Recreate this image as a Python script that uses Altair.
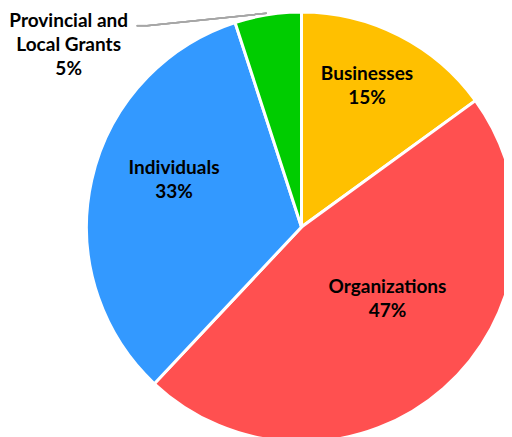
import altair as alt
import pandas as pd

categories = ["Businesses", "Organizations", "Individuals", "Provincial and Local Grants"]
label_lines = ["Businesses", "Organizations", "Individuals", "Provincial and\nLocal Grants"]
values = [15, 47, 33, 5]
colors = ["#FFC000", "#FF5050", "#3399FF", "#00CC00"]

df = pd.DataFrame({
    "cat": categories,
    "name": label_lines,
    "value": values,
    "order": list(range(len(categories))),
})

CX, CY, R = 293.5, 219, 215

base = alt.Chart(df).transform_calculate(
    label="datum.name + '\\n' + datum.value + '%'"
)

pie = base.mark_arc(radius=R, stroke="white", strokeWidth=3).encode(
    x=alt.value(CX),
    y=alt.value(CY),
    theta=alt.Theta("value:Q", stack=True),
    order=alt.Order("order:Q"),
    color=alt.Color("cat:N", scale=alt.Scale(domain=categories, range=colors), legend=None),
)

# label placement: (radius, dx, dy)
placement = {
    "Businesses": (150, -2.6, -13.3),
    "Organizations": (120, 6.6, -24.3),
    "Individuals": (130, -0.6, -24.6),
    "Provincial and Local Grants": (215, -199.2, 12.1),
}

layers = [pie]
for cat, (r, dx, dy) in placement.items():
    layers.append(
        base.mark_text(
            radius=r, dx=dx, dy=dy, font="Lato", fontWeight="bold", fontSize=19,
            lineBreak="\n", lineHeight=24, align="center", baseline="alphabetic", color="black",
        ).encode(
            x=alt.value(CX),
            y=alt.value(CY),
            theta=alt.Theta("value:Q", stack=True),
            order=alt.Order("order:Q"),
            text=alt.condition(alt.datum.cat == cat, "label:N", alt.value("")),
        )
    )

leader1 = alt.Chart(df).mark_rule(color="#A6A6A6", strokeWidth=1.5).encode(
    x=alt.value(128.7), x2=alt.value(138.7), y=alt.value(17.7), y2=alt.value(17.7)
)
leader2 = alt.Chart(df).mark_rule(color="#A6A6A6", strokeWidth=1.5).encode(
    x=alt.value(138.7), x2=alt.value(258.7), y=alt.value(17.7), y2=alt.value(5.3)
)
layers += [leader1, leader2]

chart = alt.layer(*layers).properties(
    width=496, height=429, padding=0, autosize=alt.AutoSizeParams(type="none")
).configure_view(stroke=None)

chart.save("out.html", embed_options={"renderer": "svg", "actions": False})
